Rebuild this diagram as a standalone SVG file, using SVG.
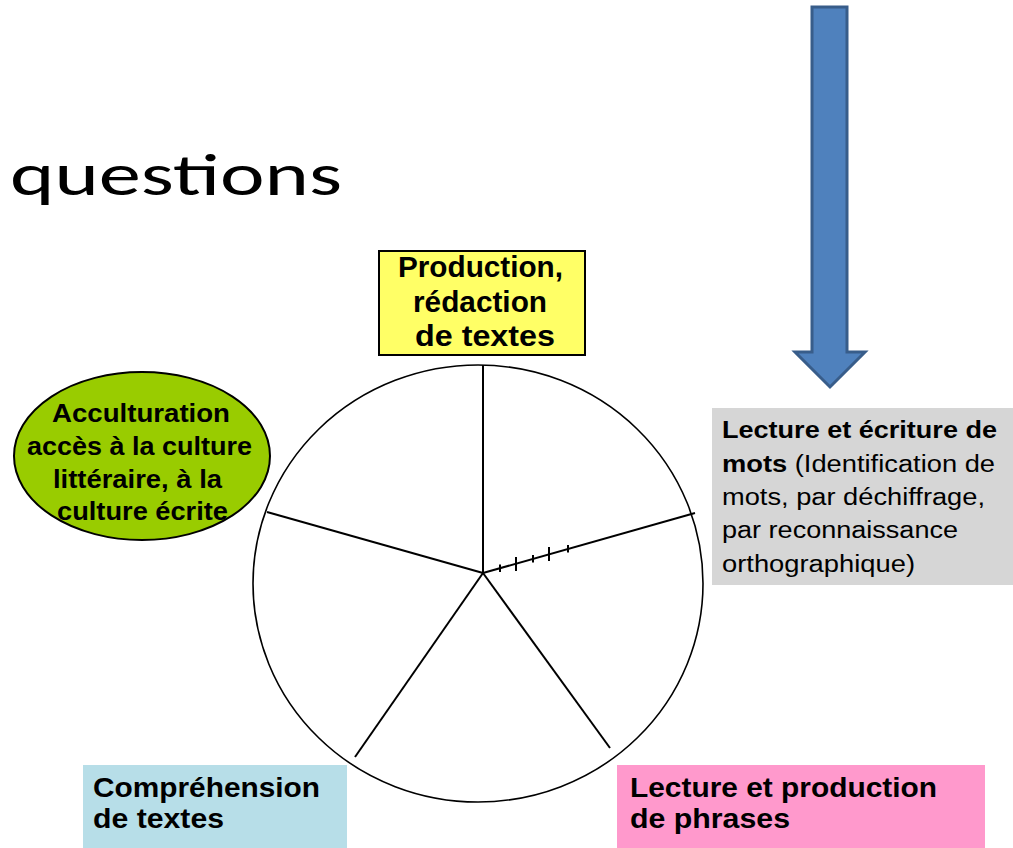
<svg xmlns="http://www.w3.org/2000/svg" width="1013" height="848" viewBox="0 0 1013 848">
<style>
.b{font-family:"Liberation Sans",Arial,sans-serif;font-weight:bold;fill:#000}
.r{font-family:"Liberation Sans",Arial,sans-serif;fill:#000}
.sp{stroke:#000;stroke-width:2;fill:none}
</style>
<rect width="1013" height="848" fill="#fff"/>
<text x="10" y="195" font-family="Carlito,'Open Sans','Noto Sans',sans-serif" font-size="60" textLength="332" lengthAdjust="spacingAndGlyphs">questions</text>
<g id="arrow">
<path d="M812,7 H847 V352 H865 L830,387 L795,352 H812 Z" fill="#4F81BD" stroke="#385D8A" stroke-width="3"/>
</g>
<g id="wheel">
<ellipse cx="478" cy="583.5" rx="225" ry="218.5" fill="#fff" stroke="#000" stroke-width="1.6"/>
</g>
<g id="connectors">
<line class="sp" x1="483" y1="573" x2="483" y2="365"/>
<line class="sp" x1="483" y1="573" x2="695" y2="513"/>
<line class="sp" x1="483" y1="573" x2="610" y2="748"/>
<line class="sp" x1="483" y1="573" x2="355" y2="757"/>
<line class="sp" x1="483" y1="573" x2="267" y2="512"/>
<g stroke="#000" stroke-width="2">
<line x1="500" y1="564.5" x2="500" y2="572"/>
<line x1="516" y1="557" x2="516" y2="571"/>
<line x1="533" y1="555" x2="533" y2="562.5"/>
<line x1="549" y1="547" x2="549" y2="561"/>
<line x1="568" y1="545" x2="568" y2="552.5"/>
</g>
</g>
<g id="production">
<rect x="379" y="251" width="206" height="104" fill="#FFFF66" stroke="#000" stroke-width="2"/>
<text class="b" x="398" y="277" font-size="30" textLength="165" lengthAdjust="spacingAndGlyphs">Production,</text>
<text class="b" x="413" y="312" font-size="30" textLength="134" lengthAdjust="spacingAndGlyphs">rédaction</text>
<text class="b" x="415" y="346" font-size="30" textLength="140" lengthAdjust="spacingAndGlyphs">de textes</text>
</g>
<g id="acculturation">
<ellipse cx="142" cy="456" rx="128" ry="84" fill="#99CC00" stroke="#000" stroke-width="2"/>
<text class="b" x="52" y="422" font-size="25" textLength="178" lengthAdjust="spacingAndGlyphs">Acculturation</text>
<text class="b" x="27" y="455" font-size="25" textLength="225" lengthAdjust="spacingAndGlyphs">accès à la culture</text>
<text class="b" x="53" y="488" font-size="25" textLength="169" lengthAdjust="spacingAndGlyphs">littéraire, à la</text>
<text class="b" x="57" y="520" font-size="25" textLength="171" lengthAdjust="spacingAndGlyphs">culture écrite</text>
</g>
<g id="lecture-mots">
<rect x="712" y="408" width="301" height="177" fill="#D6D6D6"/>
<text class="b" x="722" y="438" font-size="23" textLength="275" lengthAdjust="spacingAndGlyphs">Lecture et écriture de</text>
<text x="722" y="472" font-size="23" textLength="273" lengthAdjust="spacingAndGlyphs"><tspan class="b">mots</tspan><tspan class="r"> (Identification de</tspan></text>
<text class="r" x="722" y="505" font-size="23" textLength="263" lengthAdjust="spacingAndGlyphs">mots, par déchiffrage,</text>
<text class="r" x="722" y="538" font-size="23" textLength="236" lengthAdjust="spacingAndGlyphs">par reconnaissance</text>
<text class="r" x="722" y="572" font-size="23" textLength="193" lengthAdjust="spacingAndGlyphs">orthographique)</text>
</g>
<g id="comprehension">
<rect x="83" y="765" width="264" height="90" fill="#B7DEE8"/>
<text class="b" x="93" y="797" font-size="28" textLength="227" lengthAdjust="spacingAndGlyphs">Compréhension</text>
<text class="b" x="93" y="828" font-size="28" textLength="131" lengthAdjust="spacingAndGlyphs">de textes</text>
</g>
<g id="phrases">
<rect x="617" y="765" width="368" height="90" fill="#FF99CC"/>
<text class="b" x="630" y="797" font-size="28" textLength="307" lengthAdjust="spacingAndGlyphs">Lecture et production</text>
<text class="b" x="630" y="828" font-size="28" textLength="160" lengthAdjust="spacingAndGlyphs">de phrases</text>
</g>
</svg>
